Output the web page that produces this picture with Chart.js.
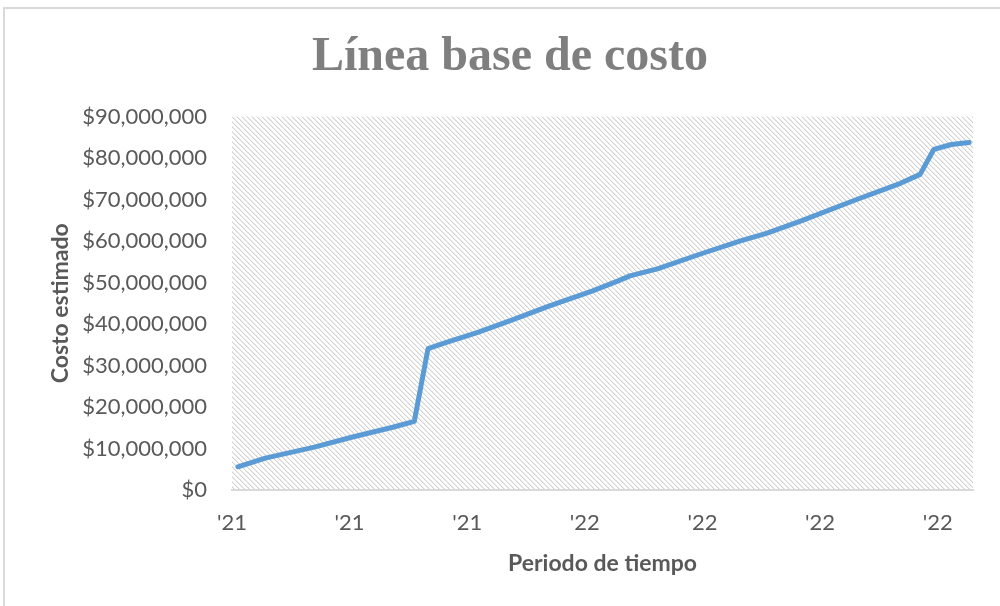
<!DOCTYPE html>
<html>
<head>
<meta charset="utf-8">
<script src="https://cdn.jsdelivr.net/npm/chart.js@4.4.1/dist/chart.umd.min.js"></script>
<style>
  body { margin: 0; background: #fff; overflow: hidden; }
  #frame { position: absolute; left: 3px; top: 7px; width: 1200px; height: 800px; border: 2px solid #d9d9d9; }
  #wrap { position: absolute; left: 0; top: 0; width: 1000px; height: 606px; }
</style>
</head>
<body>
<div id="frame"></div>
<div id="wrap"><canvas id="myChart" width="1000" height="606"></canvas></div>
<script>
// days from the start of the axis, and the cost at that point
var days = [3, 17, 42, 61, 82, 93, 100, 109, 125, 142, 162, 184, 197, 203, 217, 239, 259, 273, 290, 319, 341, 351, 358, 367, 376];
var costs = [5590000, 7680000, 10320000, 12720000, 15120000, 16560000, 34080000, 35520000, 37920000, 40800000,
             44400000, 48000000, 50400000, 51600000, 53280000, 56880000, 60000000, 61920000, 64800000, 70080000,
             73920000, 76080000, 82080000, 83280000, 83760000];
var xLabels = ["'21", "'21", "'21", "'22", "'22", "'22", "'22"];
var yTicks = [0, 10000000, 20000000, 30000000, 40000000, 50000000, 60000000, 70000000, 80000000, 90000000];

var points = [];
for (var i = 0; i < days.length; i++) {
    points.push({ x: days[i], y: costs[i] });
}

// diagonal hatch for the plot area
var P = 5;
var tile = document.createElement("canvas");
tile.width = P;
tile.height = P;
var tc = tile.getContext("2d");
tc.fillStyle = "#ffffff";
tc.fillRect(0, 0, P, P);
for (var k = 0; k < P; k++) {
    tc.fillStyle = "#d2d2d2";
    tc.fillRect(k, k, 1, 1);
    tc.fillStyle = "#ebebeb";
    tc.fillRect((k + 1) % P, k, 1, 1);
}

var hatch = {
    id: "hatch",
    beforeDraw: function (chart) {
        var a = chart.chartArea;
        var c = chart.ctx;
        c.save();
        c.fillStyle = c.createPattern(tile, "repeat");
        c.fillRect(a.left, a.top, a.right - a.left, a.bottom - a.top);
        c.restore();
    }
};

function money(v) {
    return "$" + v.toLocaleString("en-US");
}

var ctx = document.getElementById("myChart");
var myChart = new Chart(ctx, {
    type: "line",
    data: {
        datasets: [
            {
                label: "Costo",
                data: points,
                borderColor: "#5b9bd5",
                borderWidth: 5,
                borderCapStyle: "round",
                borderJoinStyle: "round",
                pointRadius: 0,
                fill: false,
                tension: 0
            }
        ]
    },
    options: {
        responsive: false,
        animation: false,
        layout: { padding: { left: 47, right: 27, top: 0, bottom: 0 } },
        plugins: {
            legend: { display: false },
            tooltip: { enabled: false },
            title: {
                display: true,
                text: "Línea base de costo",
                color: "#7f7f7f",
                font: { family: "Liberation Serif", size: 48, weight: "bold" },
                padding: { top: 29, bottom: 30 }
            }
        },
        scales: {
            x: {
                type: "linear",
                min: 0,
                max: 378,
                afterFit: function (s) { s.height = 116; },
                grid: { display: false, drawTicks: false },
                border: { display: true, color: "#d9d9d9", width: 2 },
                ticks: {
                    stepSize: 60,
                    includeBounds: false,
                    padding: 20,
                    color: "#595959",
                    font: { family: "Lato", size: 22 },
                    maxRotation: 0,
                    callback: function (v) { return xLabels[Math.round(v / 60)]; }
                },
                title: {
                    display: true,
                    text: "Periodo de tiempo",
                    color: "#595959",
                    font: { family: "Lato", size: 23, weight: "bold" },
                    padding: { top: 0, bottom: 29 }
                }
            },
            y: {
                min: 0,
                max: 90000000,
                afterFit: function (s) { s.width = 185; },
                afterBuildTicks: function (s) {
                    s.ticks = yTicks.map(function (v) { return { value: v }; });
                },
                grid: { display: false, drawTicks: false },
                border: { display: false },
                ticks: {
                    padding: 25,
                    color: "#595959",
                    font: { family: "Lato", size: 22 },
                    callback: function (v) { return money(v); }
                },
                title: {
                    display: true,
                    text: "Costo estimado",
                    color: "#595959",
                    font: { family: "Lato", size: 23, weight: "bold" },
                    padding: { top: 0, bottom: 0 }
                }
            }
        }
    },
    plugins: [hatch]
});
</script>
</body>
</html>
